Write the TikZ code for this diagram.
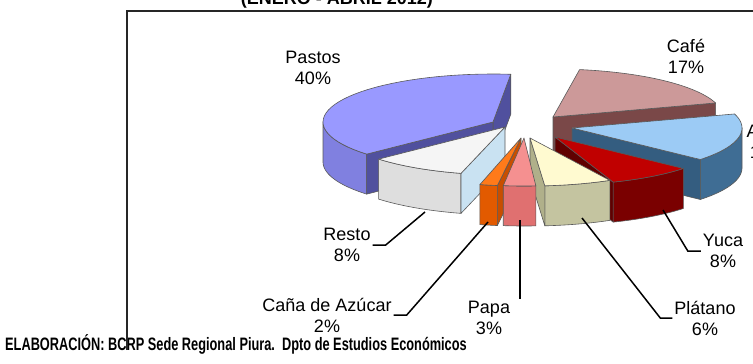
\documentclass[tikz,border=0pt]{standalone}
\usepackage{fontspec}
\setmainfont{Liberation Sans}
\usetikzlibrary{calc}

\definecolor{pastosTop}{HTML}{9999FF}
\definecolor{pastosSide}{HTML}{8080E0}
\definecolor{pastosCut}{HTML}{50509E}
\definecolor{cafeTop}{HTML}{CC9999}
\definecolor{cafeSide}{HTML}{8A5656}
\definecolor{cafeCut}{HTML}{7A4848}
\definecolor{arrozTop}{HTML}{9CCBF5}
\definecolor{arrozSide}{HTML}{3F6D94}
\definecolor{arrozCut}{HTML}{345D80}
\definecolor{yucaTop}{HTML}{C00000}
\definecolor{yucaSide}{HTML}{7A0000}
\definecolor{yucaCut}{HTML}{600000}
\definecolor{platanoTop}{HTML}{FFFAD0}
\definecolor{platanoSide}{HTML}{C4C4A0}
\definecolor{platanoCut}{HTML}{B0B08A}
\definecolor{papaTop}{HTML}{F59090}
\definecolor{papaSide}{HTML}{E07070}
\definecolor{papaCut}{HTML}{C85858}
\definecolor{canaTop}{HTML}{FF7A1A}
\definecolor{canaSide}{HTML}{E25A00}
\definecolor{canaCut}{HTML}{C84E00}
\definecolor{restoTop}{HTML}{F5F5F5}
\definecolor{restoSide}{HTML}{DEDEDE}
\definecolor{restoCut}{HTML}{C9E2F2}

% one exploded slice: tip x, tip y, from, to, top, wall, cut
\newcommand{\pieslice}[7]{%
  \pgfmathsetmacro\wallA{max(#3,180)}
  \pgfmathsetmacro\wallB{min(#4,360)}
  \pgfmathtruncatemacro\wallOn{\wallA<\wallB}
  \ifnum\wallOn=1
    \draw[slice, fill=#6] plot[domain=\wallA:\wallB, samples=30] ({#1+\pieRx*cos(\x)}, {#2-\pieRy*sin(\x)})
      -- plot[domain=\wallB:\wallA, samples=30] ({#1+\pieRx*cos(\x)}, {#2+\pieH-\pieRy*sin(\x)}) -- cycle;
  \fi
  \pgfmathtruncatemacro\cutA{cos(#3)>0}
  \ifnum\cutA=1
    \draw[slice, fill=#7] (#1,#2) -- ({#1+\pieRx*cos(#3)}, {#2-\pieRy*sin(#3)}) -- ++(0,\pieH) -- ({#1},{#2+\pieH}) -- cycle;
  \fi
  \pgfmathtruncatemacro\cutB{cos(#4)<0}
  \ifnum\cutB=1
    \draw[slice, fill=#7] (#1,#2) -- ({#1+\pieRx*cos(#4)}, {#2-\pieRy*sin(#4)}) -- ++(0,\pieH) -- ({#1},{#2+\pieH}) -- cycle;
  \fi
  \draw[slice, fill=#5] (#1,#2) -- plot[domain=#3:#4, samples=40] ({#1+\pieRx*cos(\x)}, {#2-\pieRy*sin(\x)}) -- cycle;
}

\begin{document}
\begin{tikzpicture}[x=1pt, y=-1pt,
    slice/.style={draw=black!65, line width=0.6pt, line join=round},
    lbl/.style={align=center, inner sep=2pt, font=\fontsize{18}{21}\selectfont},
    leader/.style={draw=black, line width=1.5pt},
    frame/.style={draw=black!85, line width=1.4pt}]
    \useasboundingbox (0,0) rectangle (753,364);
    \clip (0,0) rectangle (753,364);

    % Pie size
    \def\pieRx{170}
    \def\pieRy{48}
    \def\pieH{40}

    % Slices, back to front
    \pieslice{553}{117}{17}{81}{cafeTop}{cafeSide}{cafeCut}
    \pieslice{493}{122}{84}{222}{pastosTop}{pastosSide}{pastosCut}
    \pieslice{572}{128}{319}{377}{arrozTop}{arrozSide}{arrozCut}
    \pieslice{555}{137}{290}{319}{yucaTop}{yucaSide}{yucaCut}
    \pieslice{505}{127}{222}{255}{restoTop}{restoSide}{restoCut}
    \pieslice{530}{138}{275}{298}{platanoTop}{platanoSide}{platanoCut}
    \pieslice{521}{138}{256}{262}{canaTop}{canaSide}{canaCut}
    \pieslice{524}{138}{263}{274}{papaTop}{papaSide}{papaCut}

    % Labels
    \node[lbl] (pastosLbl) at (313,68) {Pastos\\40\%};
    \node[lbl] (cafeLbl) at (686,56) {Café\\17\%};
    \node[lbl] (arrozLbl) at (768,142) {Arroz\\16\%};
    \node[lbl] (yucaLbl) at (723,251) {Yuca\\8\%};
    \node[lbl] (platanoLbl) at (705,318) {Plátano\\6\%};
    \node[lbl] (papaLbl) at (489,318) {Papa\\3\%};
    \node[lbl] (canaLbl) at (327,315) {Caña de Azúcar\\2\%};
    \node[lbl] (restoLbl) at (347,245) {Resto\\8\%};

    % Leader lines
    \coordinate (yucaPt) at (663,210);
    \coordinate (platanoPt) at (582,218);
    \coordinate (papaPt) at (520,220);
    \coordinate (canaPt) at (488,222);
    \coordinate (restoPt) at (425,212);
    \draw[leader] (yucaPt) -- ($(yucaLbl.west)+(-13,0)$) -- (yucaLbl.west);
    \draw[leader] (platanoPt) -- ($(platanoLbl.west)+(-12,0)$) -- (platanoLbl.west);
    \draw[leader] (papaPt) -- (papaPt |- papaLbl.north);
    \draw[leader] (canaPt) -- ($(canaLbl.east)+(13,0)$) -- (canaLbl.east);
    \draw[leader] (restoPt) -- ($(restoLbl.east)+(13,0)$) -- (restoLbl.east);

    % Title (cut off at the top) and source line
    \node[anchor=base, inner sep=0, font=\bfseries\fontsize{18}{20}\selectfont] (titulo) at (337,5) {(ENERO - ABRIL 2012)};
    \node[anchor=base west, inner sep=0, font=\bfseries\fontsize{18}{20}\selectfont] (fuente) at (5,350)
        {\scalebox{0.71}[1]{ELABORACIÓN: BCRP Sede Regional Piura.\ \ Dpto de Estudios Económicos}};

    % Chart frame
    \draw[frame] (127,350) -- (127,11) -- (753,11);
\end{tikzpicture}
\end{document}
